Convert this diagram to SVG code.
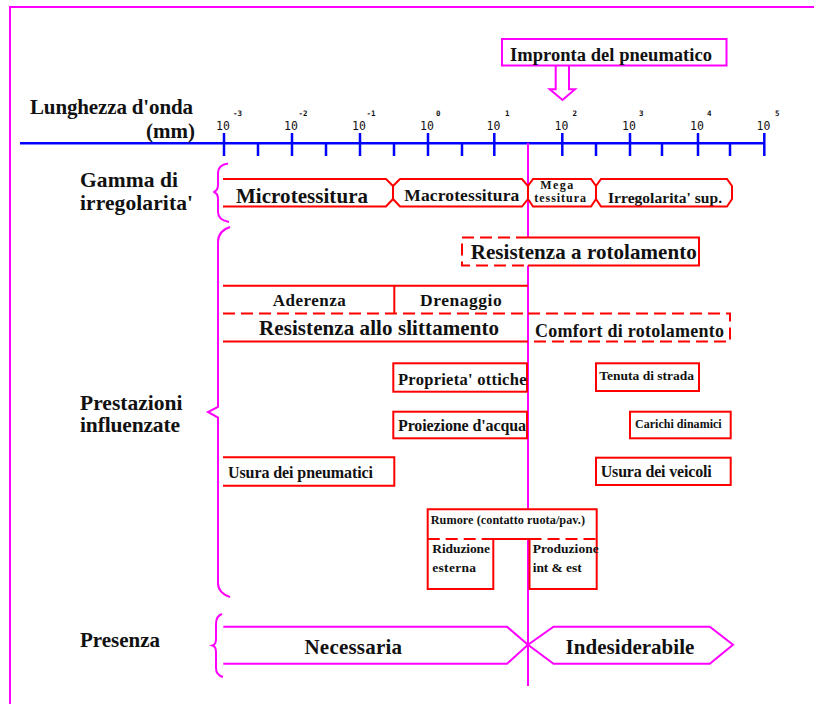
<svg xmlns="http://www.w3.org/2000/svg" width="814" height="704" viewBox="0 0 814 704">
<style>
.r{fill:none;stroke:#ff0000;stroke-width:2}
.rw{fill:#ffffff;stroke:#ff0000;stroke-width:2}
.rd{fill:none;stroke:#ff0000;stroke-width:2;stroke-dasharray:12 6}
.m{fill:none;stroke:#ff00ff;stroke-width:2}
.b{fill:none;stroke:#0000ff;stroke-width:2.5}
.t{font-family:"Liberation Serif","Times New Roman",serif;font-weight:bold;fill:#111}
.n{font-family:"DejaVu Sans Mono",monospace;font-size:11.5px;fill:#111;text-anchor:middle}
.s{font-family:"DejaVu Sans Mono",monospace;font-size:7.5px;font-weight:bold;fill:#111}
</style>
<rect width="814" height="704" fill="#ffffff"/>
<g id="frame"><path class="m" d="M10,704 V7 H814"/></g>

<g id="axis">
<path class="b" d="M20,143.3 H764"/>
<path class="b" d="M224,133 V156 M292,133 V156 M360,133 V156 M428,133 V156 M494.3,133 V156 M562.3,133 V156 M630,133 V156 M698,133 V156 M764.3,133 V156 M258,143 V156 M326,143 V156 M394,143 V156 M462,143 V156 M596,143 V156 M662,143 V156 M730,143 V156"/>
<g class="n">
<text x="223" y="130">10</text><text x="291" y="130">10</text><text x="359" y="130">10</text><text x="427" y="130">10</text><text x="493.5" y="130">10</text><text x="561.5" y="130">10</text><text x="629" y="130">10</text><text x="697" y="130">10</text><text x="763.5" y="130">10</text>
</g>
<g class="s">
<text x="233" y="116">-3</text><text x="298.5" y="116">-2</text><text x="366.5" y="116">-1</text><text x="436" y="116">0</text><text x="505" y="116">1</text><text x="572.5" y="116">2</text><text x="639" y="116">3</text><text x="707" y="116">4</text><text x="775" y="116">5</text>
</g>
<text class="t" x="30" y="114" font-size="21" textLength="163">Lunghezza d'onda</text>
<text class="t" x="195" y="138" font-size="21" text-anchor="end">(mm)</text>
</g>

<g id="connectors">
<path class="m" d="M528,143 V686"/>
</g>

<g id="impronta">
<rect class="m" x="502" y="39" width="224.5" height="26.5" fill="#fff"/>
<text class="t" x="510" y="61" font-size="18.5" textLength="202">Impronta del pneumatico</text>
<path class="m" d="M555.7,65.7 V89.3 H549.7 L562.5,100 L575,89.3 H569 V65.7" fill="#fff"/>
</g>

<g id="labels">
<text class="t" x="80" y="187.3" font-size="21.5" textLength="98">Gamma di</text>
<text class="t" x="80" y="210" font-size="21.5" textLength="113">irregolarita'</text>
<text class="t" x="80" y="410" font-size="21.5" textLength="102.5">Prestazioni</text>
<text class="t" x="80" y="431.7" font-size="21.5" textLength="100">influenzate</text>
<text class="t" x="80" y="647" font-size="21">Presenza</text>
</g>

<g id="braces">
<path class="m" d="M228,163.5 Q218,165 218,173 L218,185 Q218,191 213.5,192 Q218,193 218,199 L218,212 Q218,220 229,222"/>
<path class="m" d="M230,227 Q218,231 218,242 L218,407 L208,412 L218,417.5 L218,583 Q218,593 230,597"/>
<path class="m" d="M222,614 Q216,616 216,624 L216,639 Q216,644.5 212.5,645.5 Q216,646.5 216,652 L216,668 Q216,675 223,677"/>
</g>

<g id="microtessitura">
<path class="r" d="M223,179 H386 L393,186 V199 L386,206.5 H223"/>
<text class="t" x="236" y="203" font-size="21" textLength="132">Microtessitura</text>
</g>
<g id="macrotessitura">
<path class="r" d="M400,179 H522 L528,186 V199 L522,206.5 H400 L393,199 V186 Z"/>
<text class="t" x="404.3" y="201.3" font-size="17.5" textLength="115">Macrotessitura</text>
</g>
<g id="megatessitura">
<path class="r" d="M533,179 H591 L596,186 V199 L591,206.5 H533 L528,199 V186 Z"/>
<text class="t" x="540.3" y="188.8" font-size="12" textLength="33">Mega</text>
<text class="t" x="534.3" y="201.5" font-size="12" textLength="51.7">tessitura</text>
</g>
<g id="irregolarita">
<text class="t" x="608" y="202.7" font-size="15.5" textLength="114">Irregolarita' sup.</text>
<path class="r" d="M601,179 H727 L732,186 V199 L727,206.5 H601 L596,199 V186 Z"/>
</g>

<g id="resistenza-rotolamento">
<rect x="462" y="237.5" width="237" height="28" fill="#fff"/>
<path class="rd" d="M528,237.5 H462 V265.5 H528"/>
<path class="r" d="M528,237.5 H699 V265.5 H528"/>
<text class="t" x="470.7" y="259.3" font-size="21" textLength="226">Resistenza a rotolamento</text>
</g>

<g id="aderenza">
<path class="r" d="M223,285.7 H528 M394.3,285.7 V313.5"/>
<text class="t" x="272.7" y="306" font-size="17" textLength="73">Aderenza</text>
</g>
<g id="drenaggio">
<text class="t" x="420" y="306" font-size="17.5" textLength="81.7">Drenaggio</text>
</g>
<g id="resistenza-slittamento">
<path class="rd" d="M223,313.5 H528"/>
<path class="r" d="M223,341.5 H528"/>
<text class="t" x="259" y="335" font-size="21" textLength="240">Resistenza allo slittamento</text>
</g>
<g id="comfort">
<path class="rd" d="M528,313.5 H730 V341.5 H528"/>
<text class="t" x="535" y="337.3" font-size="18" textLength="189">Comfort di rotolamento</text>
</g>

<g id="proprieta-ottiche">
<rect class="r" x="393.3" y="363.3" width="133.7" height="28.4"/>
<text class="t" x="398" y="385" font-size="16.5" textLength="128.5">Proprieta' ottiche</text>
</g>
<g id="proiezione-acqua">
<rect class="r" x="393.3" y="411.7" width="133.7" height="26.6"/>
<text class="t" x="398" y="431" font-size="16" textLength="128">Proiezione d'acqua</text>
</g>
<g id="usura-pneumatici">
<path class="r" d="M223,457.3 H394.3 V485.7 H223"/>
<text class="t" x="228" y="478.3" font-size="16" textLength="145">Usura dei pneumatici</text>
</g>
<g id="tenuta-strada">
<rect class="r" x="596" y="363.3" width="103" height="27.7"/>
<text class="t" x="599.3" y="380" font-size="13.5" textLength="94.7">Tenuta di strada</text>
</g>
<g id="carichi-dinamici">
<rect class="r" x="630" y="411.7" width="100.7" height="26.6"/>
<text class="t" x="635" y="427.7" font-size="12" textLength="86.7">Carichi dinamici</text>
</g>
<g id="usura-veicoli">
<rect class="r" x="596" y="457.7" width="134.7" height="27.3"/>
<text class="t" x="600.7" y="476.7" font-size="16" textLength="111">Usura dei veicoli</text>
</g>

<g id="rumore">
<rect x="427.7" y="509.3" width="169" height="29.7" fill="#fff"/>
<path class="r" d="M427.7,509.3 H596.7 V589 H529.5 V539 H493.3 V589 H427.7 Z"/>
<path class="rd" d="M427.7,539 H493.3 M529.5,539 H596.7"/>
<text class="t" x="430.7" y="524" font-size="12.2" textLength="154.3">Rumore (contatto ruota/pav.)</text>
</g>
<g id="riduzione">
<text class="t" x="432.3" y="553.3" font-size="13.5" textLength="57.7">Riduzione</text>
<text class="t" x="432.3" y="571.7" font-size="13.5" textLength="43.7">esterna</text>
</g>
<g id="produzione">
<text class="t" x="532.7" y="553.3" font-size="13.5" textLength="66">Produzione</text>
<text class="t" x="532.7" y="571.7" font-size="13.5" textLength="49">int &amp; est</text>
</g>

<g id="necessaria">
<path class="m" d="M223.3,626.8 H507 L528,644.7 L507,663.7 H223.3"/>
<text class="t" x="304.5" y="653.7" font-size="21" textLength="97.5">Necessaria</text>
</g>
<g id="indesiderabile">
<path class="m" d="M528,644.7 L553.5,626.8 H709.8 L733,644.7 L709.8,663.7 H553.5 Z"/>
<text class="t" x="565.6" y="653.7" font-size="21" textLength="128.8">Indesiderabile</text>
</g>
</svg>
